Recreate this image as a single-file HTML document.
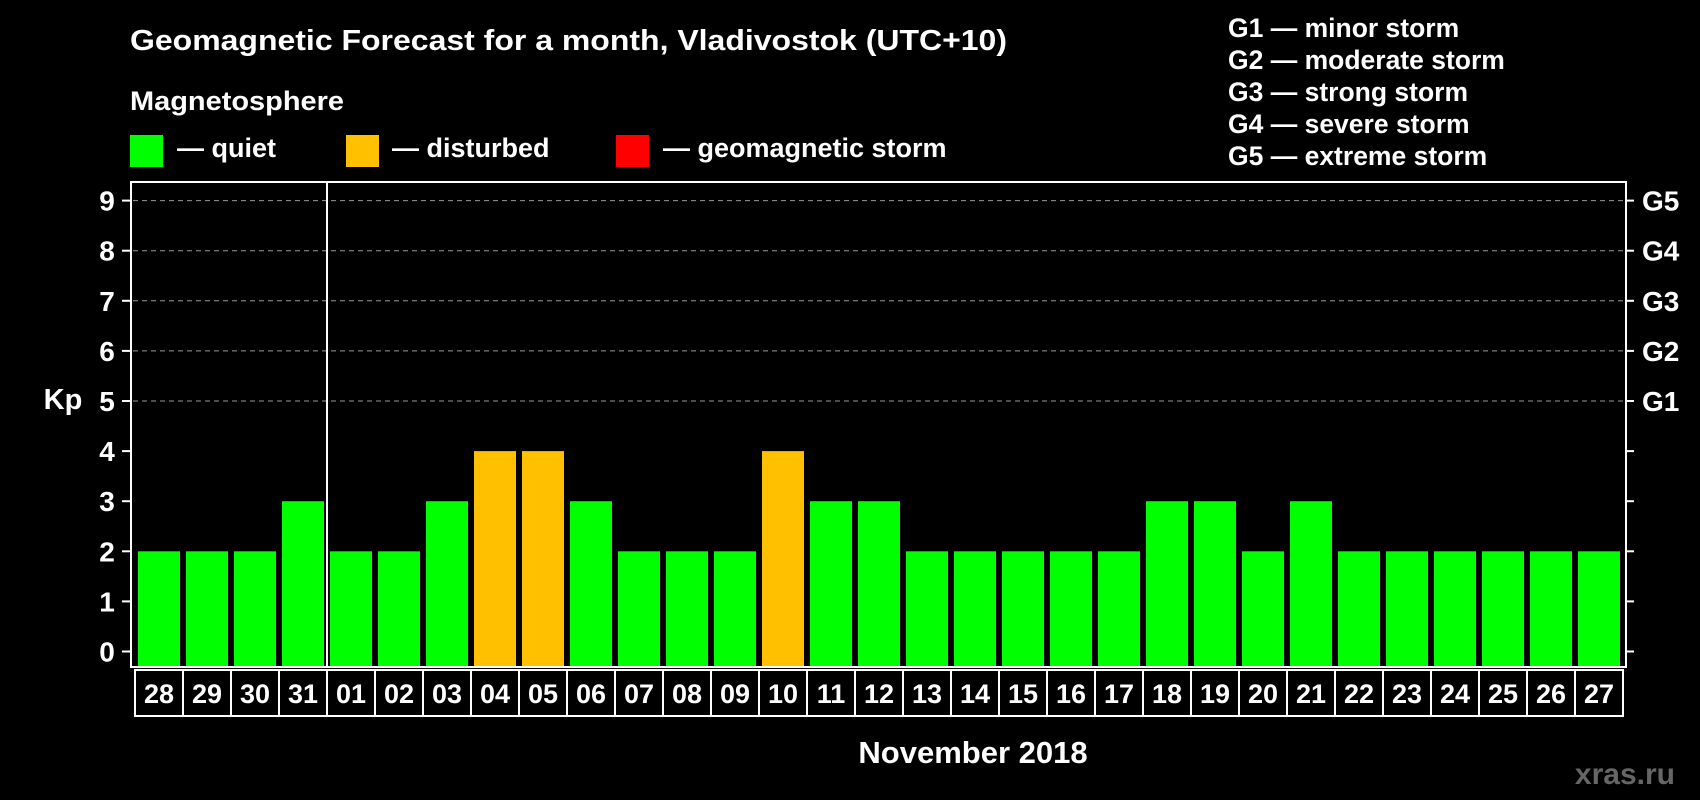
<!DOCTYPE html>
<html><head><meta charset="utf-8"><style>
html,body{margin:0;padding:0;background:#000;}
svg{display:block;font-family:"Liberation Sans",Arial,sans-serif;font-weight:bold;}
</style></head><body>
<svg id="chart" width="1700" height="800" viewBox="0 0 1700 800">
<rect x="0" y="0" width="1700" height="800" fill="#000"/>
<text x="130" y="50" fill="#fff" font-size="29" textLength="877" lengthAdjust="spacingAndGlyphs">Geomagnetic Forecast for a month, Vladivostok (UTC+10)</text>
<text x="130" y="110" fill="#fff" font-size="27" textLength="214" lengthAdjust="spacingAndGlyphs">Magnetosphere</text>
<g><rect x="130" y="135" width="33" height="32" fill="#00ff00"/><text x="177" y="157" fill="#fff" font-size="27">— quiet</text></g>
<g><rect x="346" y="135" width="33" height="32" fill="#ffc000"/><text x="392" y="157" fill="#fff" font-size="27">— disturbed</text></g>
<g><rect x="616" y="135" width="33" height="32" fill="#ff0000"/><text x="663" y="157" fill="#fff" font-size="27">— geomagnetic storm</text></g>
<g font-size="26.5" fill="#fff">
<text x="1228" y="37">G1 — minor storm</text>
<text x="1228" y="69">G2 — moderate storm</text>
<text x="1228" y="101">G3 — strong storm</text>
<text x="1228" y="133">G4 — severe storm</text>
<text x="1228" y="165">G5 — extreme storm</text>
</g>
<text x="63" y="409" fill="#fff" font-size="29" text-anchor="middle">Kp</text>
<text x="973" y="763" fill="#fff" font-size="31" text-anchor="middle">November 2018</text>
<text x="1675" y="784" fill="#666" font-size="30" text-anchor="end">xras.ru</text>
<g id="plot"></g>
</svg>
<script>
const days = ["28","29","30","31","01","02","03","04","05","06","07","08","09","10","11","12","13","14","15","16","17","18","19","20","21","22","23","24","25","26","27"];
const kp = [2,2,2,3,2,2,3,4,4,3,2,2,2,4,3,3,2,2,2,2,2,3,3,2,3,2,2,2,2,2,2];
const yTicks = [0,1,2,3,4,5,6,7,8,9];
const gLabels = ["G1","G2","G3","G4","G5"];
const gLevels = [5,6,7,8,9];
const monthStartIndex = 4;

const NS = "http://www.w3.org/2000/svg";
const plot = document.getElementById("plot");
const L = 131, R = 1626, T = 182, B = 667;
const y0 = 651.5, unit = 50.1;
function yScale(v){ return y0 - v * unit; }
function xScale(i){ return 138 + i * 48; }
function mk(tag, attrs, parent){
  const e = document.createElementNS(NS, tag);
  for (const k in attrs) e.setAttribute(k, attrs[k]);
  (parent || plot).appendChild(e);
  return e;
}
gLevels.forEach(function(v){
  const g = mk("line", {x1:L+2, x2:R-2, y1:yScale(v), y2:yScale(v), stroke:"#999", "stroke-width":1, "stroke-dasharray":"5,4"});
  
  
});
kp.forEach(function(v, i){
  const top = yScale(v);
  const b = mk("rect", {x:xScale(i), y:top, width:42, height:(B - 1) - top, fill: v >= 5 ? "#ff0000" : (v >= 4 ? "#ffc000" : "#00ff00")});
  
  
});
const fr = mk("rect", {x:L, y:T, width:R-L, height:B-T, fill:"none", stroke:"#fff", "stroke-width":2});


const dv = mk("line", {x1:xScale(monthStartIndex)-3, x2:xScale(monthStartIndex)-3, y1:T, y2:B, stroke:"#fff", "stroke-width":2});


yTicks.forEach(function(v){
  const y = yScale(v);
  const t1 = mk("line", {x1:122, x2:L, y1:y, y2:y, stroke:"#fff", "stroke-width":2});
  
  
  const t2 = mk("line", {x1:R, x2:1634, y1:y, y2:y, stroke:"#fff", "stroke-width":2});
  
  
  const lb = mk("text", {x:107, y:y+10, fill:"#fff", "font-size":28, "text-anchor":"middle"});
  lb.textContent = v;
  
  
});
gLabels.forEach(function(g, i){
  const lb = mk("text", {x:1642, y:yScale(gLevels[i])+10, fill:"#fff", "font-size":28});
  lb.textContent = g;
  
  
});
days.forEach(function(d, i){
  const x = xScale(i) - 3;
  const bx = mk("rect", {x:x, y:670, width:48, height:46, fill:"none", stroke:"#fff", "stroke-width":2});
  
  
  const tx = mk("text", {x:x+24, y:703, fill:"#fff", "font-size":27, "text-anchor":"middle"});
  tx.textContent = d;
  
  
});
</script>
</body></html>
